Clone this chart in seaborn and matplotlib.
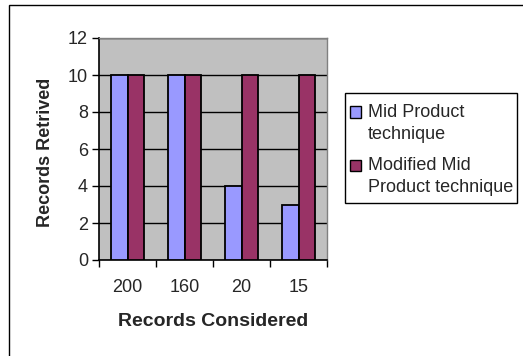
import matplotlib

matplotlib.use("Agg")

import matplotlib.pyplot as plt
import pandas as pd
import seaborn as sns
from matplotlib.legend_handler import HandlerPatch
from matplotlib.patches import Rectangle
from matplotlib.ticker import FixedLocator

# data
records_considered = ["200", "160", "20", "15"]
mid_product = [10, 10, 4, 3]
modified_mid_product = [10, 10, 10, 10]
techniques = ["Mid Product\ntechnique", "Modified Mid\nProduct technique"]
y_ticks = [0, 2, 4, 6, 8, 10, 12]

df = pd.DataFrame({
    "considered": records_considered * 2,
    "retrieved": mid_product + modified_mid_product,
    "technique": [techniques[0]] * 4 + [techniques[1]] * 4,
})


class TopLineSquare(HandlerPatch):
    """Legend square lined up with the first line of a two-line label."""

    def create_artists(self, legend, orig_handle, xdescent, ydescent,
                       width, height, fontsize, trans):
        p = Rectangle((-xdescent, -ydescent + 8.3), width, height,
                      facecolor=orig_handle.get_facecolor())
        p.set_edgecolor("black")
        p.set_linewidth(1)
        p.set_transform(trans)
        return [p]


sns.set_style("white")
plt.rcParams["font.family"] = ["Liberation Sans", "DejaVu Sans"]

W, H = 523, 356
fig = plt.figure(figsize=(W / 100, H / 100), dpi=100)
ax = fig.add_axes([99 / W, 1 - 260 / H, 228 / W, 222 / H])
ax.set_facecolor("#C0C0C0")

sns.barplot(
    data=df,
    x="considered",
    y="retrieved",
    hue="technique",
    order=records_considered,
    hue_order=techniques,
    palette=["#9999FF", "#993366"],
    saturation=1,
    edgecolor="black",
    linewidth=1.3,
    width=0.58,
    ax=ax,
    zorder=3,
)

ax.set_ylim(0, 12)
ax.set_xlim(-0.5, len(records_considered) - 0.5)
ax.set_yticks(y_ticks)
ax.yaxis.grid(True, color="black", linewidth=1, zorder=0)
ax.set_axisbelow(True)

# y ticks outward, x ticks between categories
ax.tick_params(axis="y", length=5, width=1, color="black", direction="out",
               labelsize=13, pad=3, left=True)
ax.tick_params(axis="x", which="major", length=0, labelsize=13, pad=14)
ax.xaxis.set_minor_locator(FixedLocator([i - 0.5 for i in range(len(records_considered) + 1)]))
ax.tick_params(axis="x", which="minor", length=5, width=1, color="black",
               direction="out", bottom=True)

for side in ["top", "right"]:
    ax.spines[side].set_color("#808080")
    ax.spines[side].set_linewidth(1)
for side in ["left", "bottom"]:
    ax.spines[side].set_color("black")
    ax.spines[side].set_linewidth(1.2)

ax.set_xlabel("Records Considered", fontsize=14, fontweight="bold", labelpad=12)
ax.set_ylabel("Records Retrived", fontsize=13, fontweight="bold")
ax.yaxis.set_label_coords(-0.197, 0.484)

handles, labels = ax.get_legend_handles_labels()
leg = ax.legend(
    handles, labels,
    loc="upper left",
    bbox_to_anchor=(350 / W, 1 - 104 / H),
    bbox_transform=fig.transFigure,
    frameon=False,
    fontsize=13,
    handlelength=0.6,
    handleheight=0.6,
    handletextpad=0.4,
    labelspacing=0.78,
    borderpad=0,
    borderaxespad=0,
    handler_map={h: TopLineSquare() for h in handles},
)
for t in leg.get_texts():
    t.set_linespacing(1.4)

# legend box, drawn apart so its padding can differ from the legend's
fig.add_artist(Rectangle((345 / W, 1 - 203 / H), 172 / W, 110 / H,
                         transform=fig.transFigure, fill=False,
                         edgecolor="black", linewidth=1))

# outer chart border
fig.add_artist(Rectangle((9 / W, -0.01), 1.0, 1 - 5 / H + 0.01,
                         transform=fig.transFigure, fill=False,
                         edgecolor="black", linewidth=1))

fig.savefig("out.png", dpi=100)
